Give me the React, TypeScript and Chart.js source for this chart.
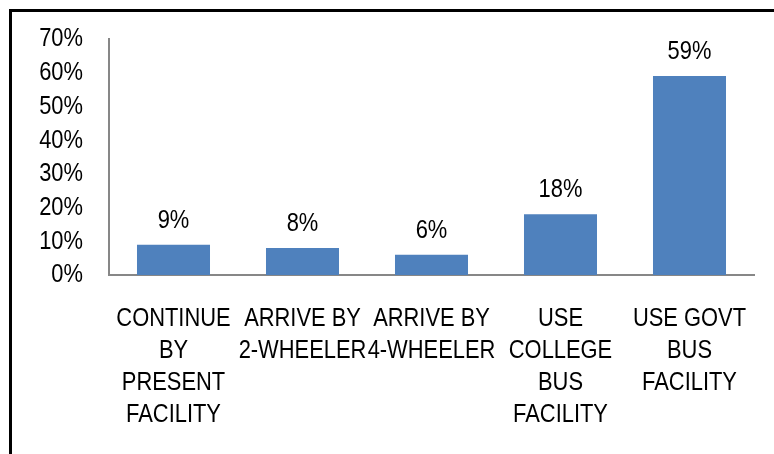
import React, { useEffect, useRef } from "react";
import { Chart, registerables } from "chart.js";

Chart.register(...registerables);

const categories: string[][] = [
  ["CONTINUE", "BY", "PRESENT", "FACILITY"],
  ["ARRIVE BY", "2-WHEELER"],
  ["ARRIVE BY", "4-WHEELER"],
  ["USE", "COLLEGE", "BUS", "FACILITY"],
  ["USE GOVT", "BUS", "FACILITY"],
];
const values: number[] = [9, 8, 6, 18, 59];
const yMax = 70;
const yStep = 10;

const FONT_FAMILY = "'Liberation Sans', Arial, sans-serif";
const FONT_SIZE = 26.7;
const CONDENSE = 0.82;

const valueLabels = {
  id: "valueLabels",
  afterDatasetsDraw(chart: any) {
    const ctx = chart.ctx;
    const meta = chart.getDatasetMeta(0);
    ctx.save();
    ctx.font = `${FONT_SIZE}px ${FONT_FAMILY}`;
    ctx.fillStyle = "#000000";
    ctx.textAlign = "center";
    ctx.textBaseline = "alphabetic";
    meta.data.forEach((bar: any, i: number) => {
      ctx.fillText(values[i] + "%", bar.x, bar.y - 17);
    });
    ctx.restore();
  },
};

export default function App() {
  const ref = useRef<HTMLCanvasElement | null>(null);
  useEffect(() => {
    const canvas = ref.current;
    if (!canvas) return;
    const ctx = canvas.getContext("2d") as CanvasRenderingContext2D;
    // condensed text rendering (Arial Narrow look)
    const origFill = ctx.fillText.bind(ctx);
    (ctx as any).fillText = (text: string, x: number, y: number, maxWidth?: number) => {
      ctx.save();
      ctx.translate(x, y);
      ctx.scale(CONDENSE, 1);
      if (maxWidth !== undefined) origFill(text, 0, 0, maxWidth / CONDENSE);
      else origFill(text, 0, 0);
      ctx.restore();
    };
    const chart = new Chart(canvas, {
      type: "bar",
      data: {
        labels: categories,
        datasets: [
          {
            data: values,
            backgroundColor: "#4F81BD",
            borderWidth: 0,
            categoryPercentage: 1,
            barPercentage: 0.566,
          },
        ],
      },
      options: {
        animation: false,
        responsive: false,
        devicePixelRatio: 1,
        layout: { padding: { left: 0, top: 39, right: 20, bottom: 0 } },
        plugins: {
          legend: { display: false },
          tooltip: { enabled: false },
        },
        scales: {
          x: {
            grid: { display: false, drawTicks: false },
            border: { display: true, color: "#878787", width: 2 },
            ticks: {
              autoSkip: false,
              maxRotation: 0,
              minRotation: 0,
              padding: 28,
              color: "#000000",
              font: { family: FONT_FAMILY, size: FONT_SIZE, lineHeight: 1.19 },
            },
            afterFit: (scale: any) => {
              scale.height = 179;
              scale.paddingLeft = 0;
              scale.paddingRight = 0;
            },
          },
          y: {
            min: 0,
            max: yMax,
            grid: { display: false, drawTicks: false },
            border: { display: true, color: "#878787", width: 2 },
            ticks: {
              autoSkip: false,
              stepSize: yStep,
              padding: 26,
              color: "#000000",
              font: { family: FONT_FAMILY, size: FONT_SIZE },
              callback: (v: any) => v + "%",
            },
            afterFit: (scale: any) => {
              scale.width = 109;
              scale.paddingTop = 0;
              scale.paddingBottom = 0;
            },
          },
        },
      },
      plugins: [valueLabels],
    });
    return () => {
      chart.destroy();
      (ctx as any).fillText = origFill;
    };
  }, []);

  return (
    <div style={{ position: "absolute", left: 0, top: 0, width: 774, height: 454, background: "#fff" }}>
      <div
        style={{
          position: "absolute",
          left: 9,
          top: 9,
          width: 765,
          height: 445,
          borderTop: "3px solid #000",
          borderLeft: "3px solid #000",
          boxSizing: "border-box",
        }}
      />
      <canvas ref={ref} width={774} height={454} style={{ position: "absolute", left: 0, top: 0 }} />
    </div>
  );
}
